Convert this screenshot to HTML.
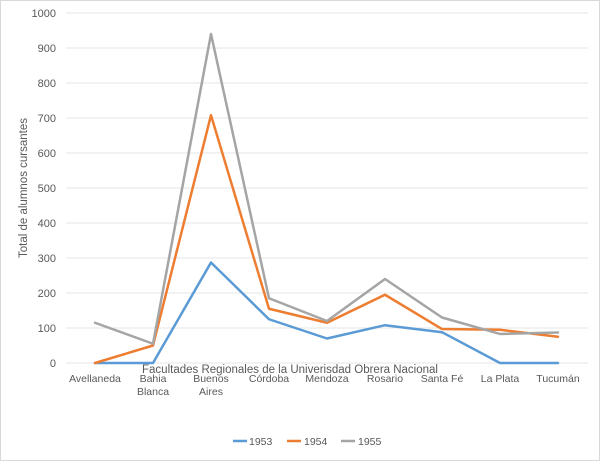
<!DOCTYPE html>
<html><head><style>
body{margin:0;background:#fff;}
svg{display:block;font-family:"Liberation Sans",sans-serif;}
</style></head><body>
<svg width="600" height="461" viewBox="0 0 600 461">
<rect x="0.5" y="0.5" width="599" height="460" fill="#fff" stroke="#d9d9d9"/>
<g stroke="#e6e6e6" stroke-width="1">
<line x1="66" x2="588" y1="363" y2="363"/><line x1="66" x2="588" y1="328" y2="328"/>
<line x1="66" x2="588" y1="293" y2="293"/><line x1="66" x2="588" y1="258" y2="258"/>
<line x1="66" x2="588" y1="223" y2="223"/><line x1="66" x2="588" y1="188" y2="188"/>
<line x1="66" x2="588" y1="153" y2="153"/><line x1="66" x2="588" y1="118" y2="118"/>
<line x1="66" x2="588" y1="83" y2="83"/><line x1="66" x2="588" y1="48" y2="48"/>
<line x1="66" x2="588" y1="13" y2="13"/>
</g>
<g font-size="11" fill="#595959" text-anchor="end">
<text x="56" y="367">0</text><text x="56" y="332">100</text><text x="56" y="297">200</text>
<text x="56" y="262">300</text><text x="56" y="227">400</text><text x="56" y="192">500</text>
<text x="56" y="157">600</text><text x="56" y="122">700</text><text x="56" y="87">800</text>
<text x="56" y="52">900</text><text x="56" y="17">1000</text>
</g>
<text transform="translate(27,188) rotate(-90)" font-size="11.5" fill="#595959" text-anchor="middle">Total de alumnos cursantes</text>
<g font-size="10.5" fill="#595959" text-anchor="middle">
<text x="95" y="382">Avellaneda</text>
<text x="153" y="382">Bahia</text><text x="153" y="395">Blanca</text>
<text x="211" y="382">Buenos</text><text x="211" y="395">Aires</text>
<text x="269" y="382">Córdoba</text><text x="327" y="382">Mendoza</text>
<text x="385" y="382">Rosario</text><text x="442" y="382">Santa Fé</text>
<text x="500" y="382">La Plata</text><text x="558" y="382">Tucumán</text>
</g>
<text x="290" y="373" font-size="11.5" fill="#595959" text-anchor="middle">Facultades Regionales de la Univerisdad Obrera Nacional</text>
<g fill="none" stroke-width="2.5" stroke-linejoin="round" stroke-linecap="round">
<polyline stroke="#5b9bd5" points="95,363 153,363 211,262.5 269,319.25 327,338.5 385,325.2 442,332.2 500,363 558,363"/>
<polyline stroke="#ed7d31" points="95,363 153,345.5 211,115.2 269,308.75 327,322.75 385,294.75 442,329.05 500,329.75 558,336.75"/>
<polyline stroke="#a5a5a5" points="95,322.75 153,343.75 211,34 269,298.25 327,321 385,279 442,317.5 500,333.95 558,332.55"/>
</g>
<g font-size="10.5" fill="#595959">
<line x1="233" x2="247" y1="441" y2="441" stroke="#5b9bd5" stroke-width="2.5"/><text x="249" y="445">1953</text>
<line x1="287" x2="301" y1="441" y2="441" stroke="#ed7d31" stroke-width="2.5"/><text x="304" y="445">1954</text>
<line x1="341" x2="355" y1="441" y2="441" stroke="#a5a5a5" stroke-width="2.5"/><text x="358" y="445">1955</text>
</g>
</svg>
</body></html>
